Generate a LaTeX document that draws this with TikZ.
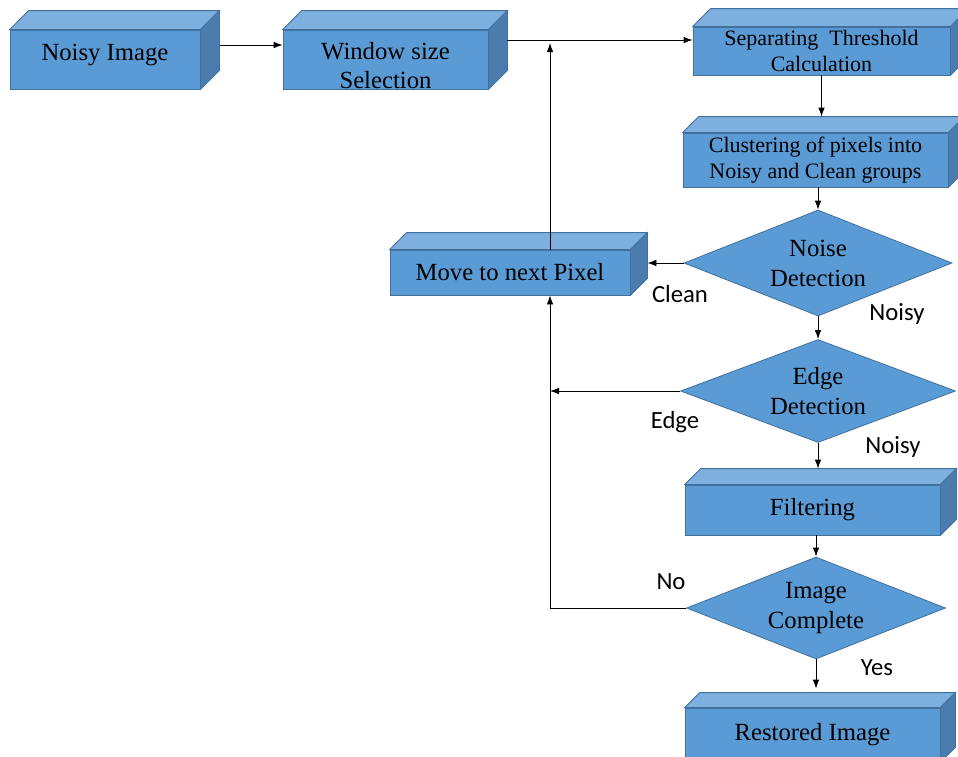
\documentclass[tikz,border=0pt]{standalone}
\usepackage{fontspec}
\setmainfont{Liberation Serif}
\newfontfamily\lblfont{Carlito}
\usetikzlibrary{arrows.meta}
\usetikzlibrary{shapes.geometric}
\usetikzlibrary{calc}
\usepackage{xcolor}

\definecolor{boxfront}{HTML}{5B9BD5}
\definecolor{boxtop}{HTML}{7DB0DF}
\definecolor{boxside}{HTML}{4A7DAE}
\definecolor{boxline}{HTML}{41719C}

\tikzset{
  face/.style={draw=boxline,line width=0.8pt},
  block/.style={face,fill=boxfront,rectangle,inner sep=0pt,align=center,font=\fontsize{24.7}{29}\selectfont},
  smallblock/.style={block,font=\fontsize{22}{26}\selectfont},
  decision/.style={face,fill=boxfront,diamond,aspect=2.5,inner sep=0pt,align=center,font=\fontsize{24.7}{30}\selectfont},
  lbl/.style={font=\lblfont\fontsize{24.7}{30}\selectfont},
  arr/.style={-{Latex[length=9pt,width=6.5pt]},line width=0.8pt},
}

% top and right faces of a block: node name, depth
\newcommand{\cuboid}[2]{%
  \filldraw[face,fill=boxtop] (#1.north west) -- ++(#2,-#2) -- ($(#1.north east)+(#2,-#2)$) -- (#1.north east) -- cycle;
  \filldraw[face,fill=boxside] (#1.north east) -- ++(#2,-#2) -- ($(#1.south east)+(#2,-#2)$) -- (#1.south east) -- cycle;
}

\begin{document}
\begin{tikzpicture}[x=1pt,y=-1pt]
\useasboundingbox (0,0) rectangle (958,756);
%top row
\node[block,minimum width=190,minimum height=59,text depth=15pt] (noisy) at (105,59.5) {Noisy Image};
\cuboid{noisy}{19}
\node[block,minimum width=205,minimum height=59] (win) at (385.5,59.5) {\rule{0pt}{29pt}Window size\\Selection};
\cuboid{win}{19}
\node[smallblock,minimum width=257,minimum height=48] (sep) at (821.5,51) {Separating\ \ Threshold\\Calculation};
\cuboid{sep}{18}
%right column
\node[smallblock,minimum width=265,minimum height=54] (clus) at (815.5,160) {Clustering of pixels into\\Noisy and Clean groups};
\cuboid{clus}{16}
\node[decision,minimum width=268,minimum height=106] (noise) at (818,263) {Noise\\Detection};
\node[block,minimum width=240,minimum height=45] (move) at (510,272.5) {Move to next Pixel};
\cuboid{move}{17}
\node[decision,minimum width=275,minimum height=103] (edge) at (818,391) {Edge\\Detection};
\node[block,minimum width=255,minimum height=50] (filt) at (812.5,510) {Filtering};
\cuboid{filt}{16}
\node[decision,minimum width=259,minimum height=102] (imgc) at (816,608) {Image\\Complete};
\node[block,minimum width=255,minimum height=54] (rest) at (812.5,735) {Restored Image};
\cuboid{rest}{15}

%helper points
\path ([yshift=11pt]sep.west) coordinate (sepin);
\coordinate (moveside) at ($(move.east)+(17,0)$);
\coordinate (loop) at (550,608);

%arrows
\draw[arr] ([shift={(20pt,14.5pt)}]noisy.east) -- ([yshift=14.5pt]win.west);
\draw[arr] ([xshift=19pt]win.east |- sepin) -- (sepin);
\draw[arr] (sep.south) -- ($(sep.south |- clus.north)+(0,-16)$);
\draw[arr] (clus.south -| noise.north) -- (noise.north);
\draw[arr] (noise.west) -- (noise.west -| moveside);
\draw[arr] (noise.south) -- (edge.north);
\draw[arr] (edge.west) -- (edge.west -| loop);
\draw[arr] (edge.south) -- ($(edge.south |- filt.north)+(0,-16)$);
\draw[arr] (filt.south -| imgc.north) -- (imgc.north);
\draw[arr] (imgc.south) -- ($(imgc.south |- rest.north)+(0,-19)$);
\draw[arr] (imgc.west) -- (imgc.west -| loop) -- (move.south -| loop);
\draw[arr] (move.north -| loop) -- ([yshift=-3pt]sepin -| loop);

%branch labels
\node[lbl] (lclean) at (680,294) {Clean};
\node[lbl] (lnoisy) at (897,314) {Noisy};
\node[lbl] (ledge) at (675,422) {Edge};
\node[lbl] (lnoisy2) at (893,447) {Noisy};
\node[lbl] (lno) at (671,582) {No};
\node[lbl] (lyes) at (877,668) {Yes};
\end{tikzpicture}
\end{document}
